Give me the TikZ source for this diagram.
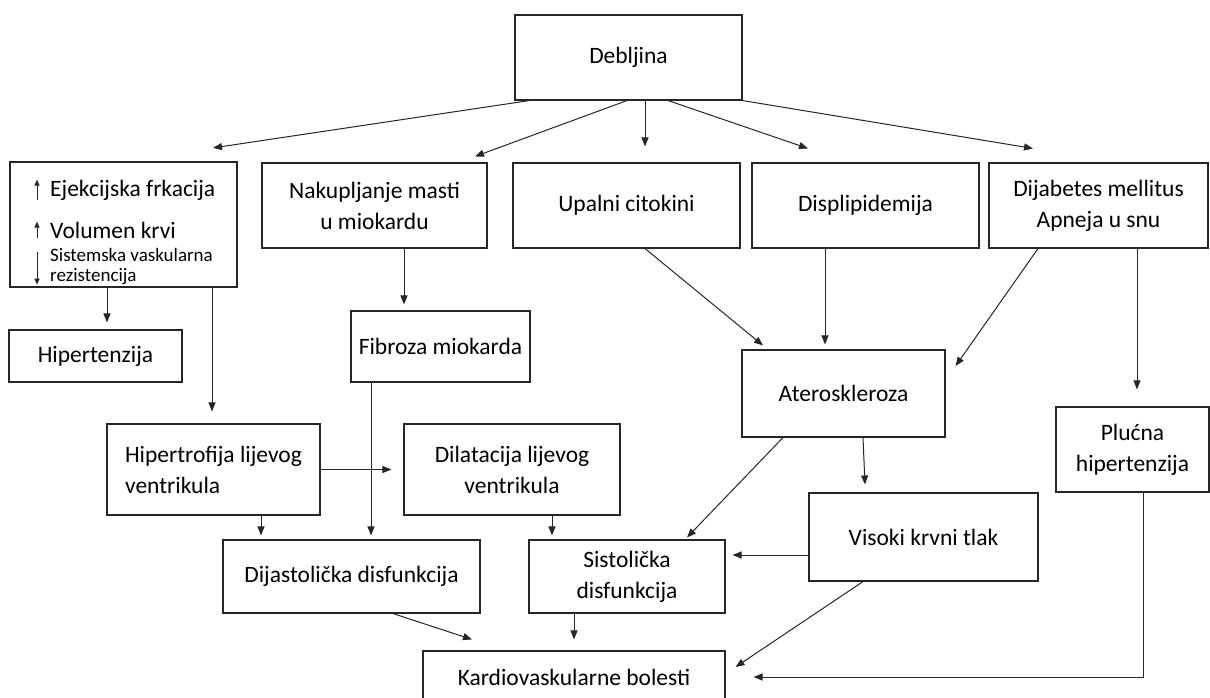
\documentclass[tikz,border=0pt]{standalone}
\usepackage{fontspec}
\setmainfont{Carlito}
\usepackage{tikz}
\usetikzlibrary{arrows.meta}

\begin{document}
\begin{tikzpicture}[x=1pt, y=-1pt,
    box/.style={draw=black!85, line width=1.1pt, inner sep=0pt, align=center, font=\fontsize{23.5}{31}\selectfont},
    arr/.style={draw=black!85, line width=1pt, -{Triangle[length=9pt,width=7pt]}},
    mark arr/.style={draw=black!85, line width=1pt, -{Triangle[length=6pt,width=5pt]}},
    big/.style={anchor=west, inner sep=0pt, font=\fontsize{23.5}{31}\selectfont},
    small/.style={anchor=west, inner sep=0pt, align=left, font=\fontsize{19}{19.5}\selectfont}]
  \useasboundingbox (0,0) rectangle (1210,698);
  \clip (0,0) rectangle (1210,698);

  \node[box, minimum width=227pt, minimum height=85pt] (deb) at (628.5,57.5) {Debljina};
  \node[box, line width=2.2pt, minimum width=227pt, minimum height=125pt] (lb) at (123.5,224.5) {};
  \node[big] (ef) at (50,190) {Ejekcijska frkacija};
  \node[big] (vk) at (50,230) {Volumen krvi};
  \node[small] (svr) at (50,266.5) {Sistemska vaskularna\\rezistencija};
  \node[box, minimum width=225pt, minimum height=85pt] (nak) at (374.5,205.5) {Nakupljanje masti\\u miokardu};
  \node[box, minimum width=227pt, minimum height=85pt] (upa) at (626.5,205.5) {Upalni citokini};
  \node[box, minimum width=227pt, minimum height=85pt] (dis) at (865.5,205.5) {Displipidemija};
  \node[box, minimum width=219pt, minimum height=85pt] (dia) at (1098.5,205.5) {Dijabetes mellitus\\Apneja u snu};
  \node[box, minimum width=173pt, minimum height=52pt] (hip) at (95.5,356) {Hipertenzija};
  \node[box, minimum width=179pt, minimum height=71pt] (fib) at (440.5,346.5) {Fibroza miokarda};
  \node[box, minimum width=203pt, minimum height=87pt] (ate) at (843.5,393.5) {Ateroskleroza};
  \node[box, minimum width=153pt, minimum height=85pt] (plu) at (1132.5,449.5) {Plućna\\hipertenzija};
  \node[box, minimum width=213pt, minimum height=91pt, align=left] (hlv) at (213.5,469.5) {Hipertrofija lijevog\\ventrikula};
  \node[box, minimum width=216pt, minimum height=91pt] (dlv) at (512,469.5) {Dilatacija lijevog\\ventrikula};
  \node[box, minimum width=229pt, minimum height=88pt] (vis) at (923.5,537) {Visoki krvni tlak};
  \node[box, minimum width=257pt, minimum height=73pt] (dij) at (351.5,576.5) {Dijastolička disfunkcija};
  \node[box, minimum width=196pt, minimum height=73pt] (sis) at (627,576.5) {Sistolička\\disfunkcija};
  \node[box, minimum width=302pt, minimum height=52pt] (kar) at (574,677) {Kardiovaskularne bolesti};

  \draw[mark arr] ([xshift=-13]ef.south west) -- ([xshift=-13]ef.north west);
  \draw[mark arr] ([xshift=-13]vk.south west) -- ([xshift=-13]vk.north west);
  \draw[mark arr] ([xshift=-13,yshift=-4]svr.north west) -- ([xshift=-13]svr.south west);

  \draw[arr] ([xshift=15]deb.south west) -- ([xshift=89.5,yshift=13]lb.north);
  \draw[arr] ([xshift=-1.5]deb.south) -- ([xshift=100.5,yshift=6]nak.north);
  \draw[arr] ([xshift=16.5]deb.south) -- ([xshift=18.5,yshift=16]upa.north);
  \draw[arr] ([xshift=39.5]deb.south) -- ([xshift=-57.5,yshift=14]dis.north);
  \draw[arr] (deb.south east) -- ([xshift=-65.5,yshift=14]dia.north);
  \draw[arr] ([xshift=-16.5]lb.south) -- ([xshift=11.5,yshift=7]hip.north);
  \draw[arr] ([xshift=88.5]lb.south) -- ([xshift=-1.5,yshift=12]hlv.north);
  \draw[arr] ([xshift=29.5]nak.south) -- ([xshift=-36.5,yshift=6]fib.north);
  \draw[arr] ([xshift=18.5]upa.south) -- ([xshift=-80.5,yshift=4]ate.north);
  \draw[arr] ([xshift=-40.5]dis.south) -- ([xshift=-18.5,yshift=5]ate.north);
  \draw[arr] ([xshift=-60.5]dia.south) -- ([xshift=10,yshift=27.5]ate.east);
  \draw[arr] ([xshift=38.5]dia.south) -- ([xshift=4.5,yshift=17]plu.north);
  \draw[arr, shorten >=12pt] (hlv.east) -- (dlv.west);
  \draw[arr] ([xshift=47.5]hlv.south) -- ([xshift=-90.5,yshift=4]dij.north);
  \draw[arr] ([xshift=-69.5]fib.south) -- ([xshift=19.5,yshift=4]dij.north);
  \draw[arr] ([xshift=40]dlv.south) -- ([xshift=-75,yshift=4]sis.north);
  \draw[arr] ([xshift=-60.5]ate.south) -- ([xshift=60,yshift=2]sis.north);
  \draw[arr] ([xshift=19.5]ate.south) -- ([xshift=-58.5,yshift=8]vis.north);
  \draw[arr] ([yshift=-18]vis.west) -- ([xshift=7,yshift=21.5]sis.east);
  \draw[arr] ([xshift=41.5]dij.south) -- ([xshift=-102,yshift=11]kar.north);
  \draw[arr] ([xshift=-53]sis.south) -- ([yshift=11]kar.north);
  \draw[arr] ([xshift=-60.5]vis.south) -- ([xshift=10,yshift=10]kar.east);
  \draw[arr] ([xshift=10.5]plu.south) |- ([xshift=28]kar.east);
\end{tikzpicture}
\end{document}
